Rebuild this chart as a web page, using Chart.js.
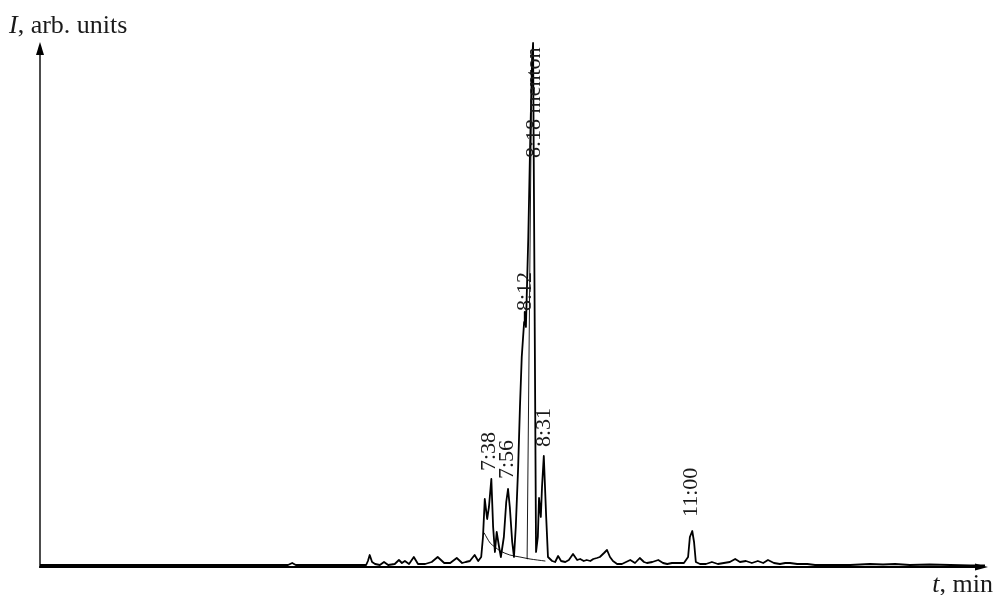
<!DOCTYPE html>
<html>
<head>
<meta charset="utf-8">
<script src="https://cdn.jsdelivr.net/npm/chart.js@4"></script>
<style>
html,body{margin:0;padding:0;background:#fff;}
#wrap{width:995px;height:595px;}
</style>
</head>
<body>
<div id="wrap"><canvas id="c" width="995" height="595"></canvas></div>
<script>
// ---- data (time in minutes, intensity in arb. units) ----
const timeMin = [0.07,4.23,4.30,4.36,5.54,5.57,5.60,5.64,5.69,5.77,5.84,5.91,6.02,6.09,6.14,6.19,6.26,6.34,6.41,6.53,6.64,6.74,6.85,6.95,7.06,7.15,7.21,7.28,7.36,7.42,7.47,7.50,7.53,7.57,7.60,7.64,7.67,7.70,7.73,7.77,7.80,7.85,7.89,7.92,7.95,7.99,8.02,8.05,8.09,8.12,8.15,8.19,8.20,8.22,8.26,8.29,8.32,8.34,8.39,8.42,8.44,8.47,8.49,8.52,8.56,8.59,8.66,8.71,8.76,8.81,8.88,8.94,9.01,9.08,9.13,9.19,9.24,9.30,9.35,9.41,9.46,9.53,9.58,9.63,9.68,9.75,9.83,9.90,9.97,10.05,10.13,10.20,10.25,10.34,10.44,10.52,10.59,10.67,10.77,10.87,10.94,10.97,11.01,11.04,11.07,11.14,11.24,11.34,11.44,11.54,11.64,11.73,11.81,11.91,12.01,12.11,12.20,12.28,12.38,12.48,12.57,12.65,12.77,12.94,13.07,13.32,13.66,13.99,14.21,14.41,14.66,14.99,15.34,15.67,15.92];
const intensity = [2,2,4,2,2,6,12,5,3,2,5,2,3,7,4,6,3,10,3,3,5,10,4,4,9,4,5,6,12,6,10,30,68,48,60,88,40,15,35,20,10,30,65,78,60,25,10,40,100,160,210,245,255,240,330,420,500,524,15,30,69,50,80,111,50,10,6,5,11,6,5,7,13,7,8,6,7,6,8,9,10,14,17,10,6,3,3,5,7,4,9,5,4,5,7,4,3,4,4,4,10,30,36,25,5,3,3,5,3,4,5,8,5,6,4,6,4,7,4,3,4,4,3,3,2,2,2,3,2.5,3,2,2.5,2,1.5,1.5];

// integration baseline under the 7:38–8:31 cluster
const baseTime = [7.52,7.62,7.70,7.79,7.95,8.12,8.29,8.54];
const baseIntensity = [34,24,20,16,12,10,8,6];

// drop line under the main peak
const dropTime = [8.24,8.32];
const dropIntensity = [8,515];

// peak annotations
const peakLabels = ['7:38','7:56','8:12','8:18 menton','8:31','11:00'];
const peakTimes = [7.64,7.92,8.20,8.34,8.52,11.01];
const peakHeights = [88,78,255,524,111,36];

const xAxisTitle = 'min';
const yAxisTitle = 'arb. units';
const xMin = 0.07, xMax = 15.92, yMin = 0, yMax = 525;

const toXY = (xs, ys) => xs.map((x, i) => ({x: x, y: ys[i]}));

// label offsets in pixels: [dx to text baseline, dy to text start]
const labelOffsets = [[4,-8],[5,-10],[6,-1],[7,115],[6,-9],[5,-14]];

const overlay = {
  id: 'overlay',
  afterDatasetsDraw(chart) {
    const ctx = chart.ctx;
    const a = chart.chartArea;
    const xs = chart.scales.x, ys = chart.scales.y;
    ctx.save();
    ctx.strokeStyle = '#000';
    ctx.fillStyle = '#000';
    // y axis
    ctx.lineWidth = 1.4;
    ctx.beginPath();
    ctx.moveTo(a.left, a.bottom + 1);
    ctx.lineTo(a.left, a.top + 10);
    ctx.stroke();
    ctx.beginPath();
    ctx.moveTo(a.left, a.top);
    ctx.lineTo(a.left - 4, a.top + 13);
    ctx.lineTo(a.left + 4, a.top + 13);
    ctx.closePath();
    ctx.fill();
    // x axis
    ctx.lineWidth = 2;
    ctx.beginPath();
    ctx.moveTo(a.left - 0.7, a.bottom);
    ctx.lineTo(a.right - 6, a.bottom);
    ctx.stroke();
    ctx.beginPath();
    ctx.moveTo(a.right + 3, a.bottom);
    ctx.lineTo(a.right - 10, a.bottom - 3.5);
    ctx.lineTo(a.right - 10, a.bottom + 3.5);
    ctx.closePath();
    ctx.fill();

    // axis titles
    ctx.fillStyle = '#1a1a1a';
    ctx.textBaseline = 'alphabetic';
    ctx.textAlign = 'left';
    ctx.font = 'italic 26px "Liberation Serif"';
    ctx.fillText('I', 9, 33);
    let w = ctx.measureText('I').width;
    ctx.font = '26px "Liberation Serif"';
    ctx.fillText(', ' + yAxisTitle, 9 + w, 33);

    ctx.font = '26px "Liberation Serif"';
    const rest = ', ' + xAxisTitle;
    const rw = ctx.measureText(rest).width;
    ctx.font = 'italic 26px "Liberation Serif"';
    const tw = ctx.measureText('t').width;
    const startX = 993 - rw - tw;
    ctx.fillText('t', startX, 592);
    ctx.font = '26px "Liberation Serif"';
    ctx.fillText(rest, startX + tw, 592);

    // peak labels (rotated)
    ctx.font = '22px "Liberation Serif"';
    peakLabels.forEach((lab, i) => {
      const px = xs.getPixelForValue(peakTimes[i]) + labelOffsets[i][0];
      const py = ys.getPixelForValue(peakHeights[i]) + labelOffsets[i][1];
      ctx.save();
      ctx.translate(px, py);
      ctx.rotate(-Math.PI / 2);
      ctx.textAlign = 'left';
      ctx.textBaseline = 'alphabetic';
      ctx.fillText(lab, 0, 0);
      ctx.restore();
    });
    ctx.restore();
  }
};

new Chart(document.getElementById('c'), {
  type: 'scatter',
  data: {
    datasets: [
      { data: toXY(baseTime, baseIntensity), showLine: true, borderColor: '#000', borderWidth: 0.9, pointRadius: 0, tension: 0.3, order: 3 },
      { data: toXY(dropTime, dropIntensity), showLine: true, borderColor: '#000', borderWidth: 0.9, pointRadius: 0, order: 2 },
      { data: toXY(timeMin, intensity), showLine: true, borderColor: '#000', borderWidth: 1.8, pointRadius: 0, tension: 0, order: 1 }
    ]
  },
  options: {
    responsive: false,
    animation: false,
    devicePixelRatio: 1,
    layout: { padding: { left: 40, right: 10, top: 42, bottom: 28 } },
    scales: {
      x: { type: 'linear', min: xMin, max: xMax, display: false },
      y: { type: 'linear', min: yMin, max: yMax, display: false }
    },
    plugins: { legend: { display: false }, tooltip: { enabled: false } },
    elements: { line: { borderJoinStyle: 'round', borderCapStyle: 'round' } }
  },
  plugins: [overlay]
});
</script>
</body>
</html>
